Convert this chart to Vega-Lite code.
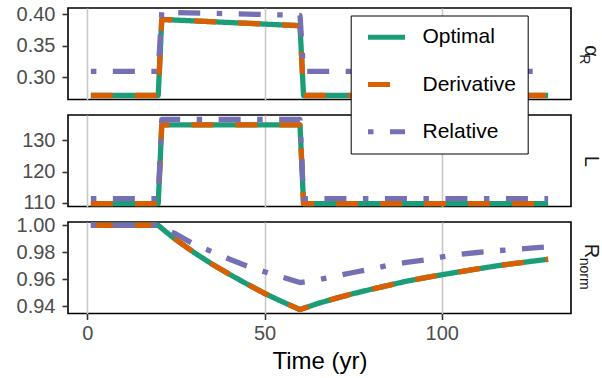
{
  "$schema": "https://vega.github.io/schema/vega-lite/v6.json",
  "padding": {"left": 15, "top": 3, "right": 2, "bottom": 5},
  "bounds": "flush",
  "spacing": 15,
  "config": {
    "font": "Liberation Sans",
    "view": {"stroke": "#000000", "strokeWidth": 1.6},
    "axis": {
      "labelFont": "Liberation Sans", "labelFontSize": 20, "labelColor": "#4D4D4D",
      "tickColor": "#333333", "tickWidth": 1.6, "tickSize": 6, "labelPadding": 7,
      "gridColor": "#C8C8C8", "gridWidth": 1.6, "domain": false,
      "titleFont": "Liberation Sans", "titleFontSize": 24, "titleColor": "#000000", "titleFontWeight": "normal"
    }
  },
  "datasets": {
    "alpha": [
      {"t": 1, "method": "Optimal", "value": 0.271},
      {"t": 20, "method": "Optimal", "value": 0.271},
      {"t": 21, "method": "Optimal", "value": 0.392},
      {"t": 60, "method": "Optimal", "value": 0.382},
      {"t": 61, "method": "Optimal", "value": 0.271},
      {"t": 130, "method": "Optimal", "value": 0.271},
      {"t": 1, "method": "Derivative", "value": 0.271},
      {"t": 20, "method": "Derivative", "value": 0.271},
      {"t": 21, "method": "Derivative", "value": 0.392},
      {"t": 60, "method": "Derivative", "value": 0.382},
      {"t": 61, "method": "Derivative", "value": 0.271},
      {"t": 130, "method": "Derivative", "value": 0.271},
      {"t": 1, "method": "Relative", "value": 0.3095},
      {"t": 20, "method": "Relative", "value": 0.3095},
      {"t": 21, "method": "Relative", "value": 0.4035},
      {"t": 60, "method": "Relative", "value": 0.3985},
      {"t": 61, "method": "Relative", "value": 0.3095},
      {"t": 130, "method": "Relative", "value": 0.3095}
    ],
    "L": [
      {"t": 1, "method": "Optimal", "value": 109.7},
      {"t": 20, "method": "Optimal", "value": 109.7},
      {"t": 21, "method": "Optimal", "value": 135},
      {"t": 60, "method": "Optimal", "value": 135},
      {"t": 61, "method": "Optimal", "value": 109.7},
      {"t": 130, "method": "Optimal", "value": 109.7},
      {"t": 1, "method": "Derivative", "value": 109.7},
      {"t": 20, "method": "Derivative", "value": 109.7},
      {"t": 21, "method": "Derivative", "value": 135},
      {"t": 60, "method": "Derivative", "value": 135},
      {"t": 61, "method": "Derivative", "value": 109.7},
      {"t": 130, "method": "Derivative", "value": 109.7},
      {"t": 1, "method": "Relative", "value": 111.3},
      {"t": 20, "method": "Relative", "value": 111.3},
      {"t": 21, "method": "Relative", "value": 136.7},
      {"t": 60, "method": "Relative", "value": 136.7},
      {"t": 61, "method": "Relative", "value": 111.3},
      {"t": 130, "method": "Relative", "value": 111.3}
    ],
    "R": [
      {"t": 1, "method": "Optimal", "value": 1.0},
      {"t": 20, "method": "Optimal", "value": 1.0},
      {"t": 22, "method": "Optimal", "value": 0.9955},
      {"t": 25, "method": "Optimal", "value": 0.9893},
      {"t": 30, "method": "Optimal", "value": 0.98},
      {"t": 35, "method": "Optimal", "value": 0.9715},
      {"t": 40, "method": "Optimal", "value": 0.9638},
      {"t": 45, "method": "Optimal", "value": 0.9565},
      {"t": 50, "method": "Optimal", "value": 0.9495},
      {"t": 55, "method": "Optimal", "value": 0.9433},
      {"t": 60, "method": "Optimal", "value": 0.9375},
      {"t": 65, "method": "Optimal", "value": 0.942},
      {"t": 70, "method": "Optimal", "value": 0.9458},
      {"t": 75, "method": "Optimal", "value": 0.9493},
      {"t": 80, "method": "Optimal", "value": 0.9525},
      {"t": 85, "method": "Optimal", "value": 0.9555},
      {"t": 90, "method": "Optimal", "value": 0.9585},
      {"t": 95, "method": "Optimal", "value": 0.961},
      {"t": 100, "method": "Optimal", "value": 0.9633},
      {"t": 105, "method": "Optimal", "value": 0.9655},
      {"t": 110, "method": "Optimal", "value": 0.9676},
      {"t": 115, "method": "Optimal", "value": 0.9697},
      {"t": 120, "method": "Optimal", "value": 0.9715},
      {"t": 125, "method": "Optimal", "value": 0.9732},
      {"t": 130, "method": "Optimal", "value": 0.9748},
      {"t": 1, "method": "Derivative", "value": 1.0},
      {"t": 20, "method": "Derivative", "value": 1.0},
      {"t": 22, "method": "Derivative", "value": 0.9955},
      {"t": 25, "method": "Derivative", "value": 0.9893},
      {"t": 30, "method": "Derivative", "value": 0.98},
      {"t": 35, "method": "Derivative", "value": 0.9715},
      {"t": 40, "method": "Derivative", "value": 0.9638},
      {"t": 45, "method": "Derivative", "value": 0.9565},
      {"t": 50, "method": "Derivative", "value": 0.9495},
      {"t": 55, "method": "Derivative", "value": 0.9433},
      {"t": 60, "method": "Derivative", "value": 0.9375},
      {"t": 65, "method": "Derivative", "value": 0.942},
      {"t": 70, "method": "Derivative", "value": 0.9458},
      {"t": 75, "method": "Derivative", "value": 0.9493},
      {"t": 80, "method": "Derivative", "value": 0.9525},
      {"t": 85, "method": "Derivative", "value": 0.9555},
      {"t": 90, "method": "Derivative", "value": 0.9585},
      {"t": 95, "method": "Derivative", "value": 0.961},
      {"t": 100, "method": "Derivative", "value": 0.9633},
      {"t": 105, "method": "Derivative", "value": 0.9655},
      {"t": 110, "method": "Derivative", "value": 0.9676},
      {"t": 115, "method": "Derivative", "value": 0.9697},
      {"t": 120, "method": "Derivative", "value": 0.9715},
      {"t": 125, "method": "Derivative", "value": 0.9732},
      {"t": 130, "method": "Derivative", "value": 0.9748},
      {"t": 1, "method": "Relative", "value": 1.0},
      {"t": 20, "method": "Relative", "value": 1.0},
      {"t": 22, "method": "Relative", "value": 0.9972},
      {"t": 25, "method": "Relative", "value": 0.9935},
      {"t": 30, "method": "Relative", "value": 0.986},
      {"t": 35, "method": "Relative", "value": 0.9806},
      {"t": 40, "method": "Relative", "value": 0.975},
      {"t": 45, "method": "Relative", "value": 0.9698},
      {"t": 50, "method": "Relative", "value": 0.9655},
      {"t": 55, "method": "Relative", "value": 0.9616},
      {"t": 60, "method": "Relative", "value": 0.9575},
      {"t": 65, "method": "Relative", "value": 0.9595},
      {"t": 70, "method": "Relative", "value": 0.9623},
      {"t": 75, "method": "Relative", "value": 0.965},
      {"t": 80, "method": "Relative", "value": 0.9675},
      {"t": 85, "method": "Relative", "value": 0.9703},
      {"t": 90, "method": "Relative", "value": 0.9725},
      {"t": 95, "method": "Relative", "value": 0.9742},
      {"t": 100, "method": "Relative", "value": 0.9765},
      {"t": 105, "method": "Relative", "value": 0.9784},
      {"t": 110, "method": "Relative", "value": 0.9798},
      {"t": 115, "method": "Relative", "value": 0.981},
      {"t": 120, "method": "Relative", "value": 0.982},
      {"t": 125, "method": "Relative", "value": 0.983},
      {"t": 130, "method": "Relative", "value": 0.9841}
    ]
  },
  "vconcat": [
    {
      "width": 503, "height": 91.5,
      "data": {"name": "alpha"},
      "encoding": {
        "x": {"field": "t", "type": "quantitative", "scale": {"domain": [-5.45, 136.45], "nice": false},
              "axis": {"values": [0, 50, 100], "grid": true, "labels": false, "ticks": false, "domain": false, "title": null}}
      },
      "layer": [
        {
          "mark": {"type": "line", "strokeWidth": 5.3, "strokeJoin": "round"},
          "encoding": {
            "y": {"field": "value", "type": "quantitative", "scale": {"domain": [0.2646, 0.4102], "nice": false, "zero": false},
                  "axis": {"orient": "left", "values": [0.30, 0.35, 0.40], "format": ".2f", "grid": false, "title": null}},
            "color": {"field": "method", "type": "nominal", "title": null,
              "scale": {"domain": ["Optimal", "Derivative", "Relative"], "range": ["#1B9E77", "#D95F02", "#7570B3"]},
              "legend": {"orient": "none", "legendX": 282.7, "legendY": 7.5, "title": null, "symbolType": "stroke", "symbolSize": 1369, "symbolStrokeWidth": 5, "labelFontSize": 21, "labelColor": "#000000", "labelFont": "Liberation Sans", "clipHeight": 21, "rowPadding": 25.2, "padding": 11.3, "symbolOffset": 3.5, "labelOffset": 15, "strokeColor": "#000000", "fillColor": "#FFFFFF", "cornerRadius": 0, "labelLimit": 300}},
            "strokeDash": {"field": "method", "type": "nominal", "title": null,
              "scale": {"domain": ["Optimal", "Derivative", "Relative"], "range": [[1, 0], [22, 22], [5.5, 16.5, 22, 16.5]]},
              "legend": {"orient": "none", "legendX": 282.7, "legendY": 7.5, "title": null, "symbolType": "stroke", "symbolSize": 1369, "symbolStrokeWidth": 5, "labelFontSize": 21, "labelColor": "#000000", "labelFont": "Liberation Sans", "clipHeight": 21, "rowPadding": 25.2, "padding": 11.3, "symbolOffset": 3.5, "labelOffset": 15, "strokeColor": "#000000", "fillColor": "#FFFFFF", "cornerRadius": 0, "labelLimit": 300}}
          }
        },
        {
          "mark": {"type": "line", "opacity": 0},
          "encoding": {
            "y": {"field": "value", "type": "quantitative", "scale": {"domain": [0.2646, 0.4102], "nice": false, "zero": false},
                  "axis": {"orient": "right", "domain": false, "ticks": false, "labels": false, "grid": false, "title": "α", "titleAngle": 90, "titleFontSize": 20, "titleColor": "#1A1A1A", "titleX": 13, "titleY": 36.7, "titleAlign": "left", "titleBaseline": "alphabetic"}}
          }
        },
        {
          "mark": {"type": "line", "opacity": 0},
          "encoding": {
            "y": {"field": "value", "type": "quantitative", "scale": {"domain": [0.2646, 0.4102], "nice": false, "zero": false},
                  "axis": {"orient": "right", "domain": false, "ticks": false, "labels": false, "grid": false, "title": "R", "titleAngle": 90, "titleFontSize": 14, "titleColor": "#1A1A1A", "titleX": 8, "titleY": 45.7, "titleAlign": "left", "titleBaseline": "alphabetic"}}
          }
        }
      ],
      "resolve": {"axis": {"y": "independent"}}
    },
    {
      "width": 503, "height": 91.5,
      "data": {"name": "L"},
      "encoding": {
        "x": {"field": "t", "type": "quantitative", "scale": {"domain": [-5.45, 136.45], "nice": false},
              "axis": {"values": [0, 50, 100], "grid": true, "labels": false, "ticks": false, "domain": false, "title": null}}
      },
      "layer": [
        {
          "mark": {"type": "line", "strokeWidth": 5.3, "strokeJoin": "round"},
          "encoding": {
            "y": {"field": "value", "type": "quantitative", "scale": {"domain": [108.8, 138.15], "nice": false, "zero": false},
                  "axis": {"orient": "left", "values": [110, 120, 130], "grid": false, "title": null}},
            "color": {"field": "method", "type": "nominal", "title": null,
              "scale": {"domain": ["Optimal", "Derivative", "Relative"], "range": ["#1B9E77", "#D95F02", "#7570B3"]},
              "legend": {"orient": "none", "legendX": 282.7, "legendY": 7.5, "title": null, "symbolType": "stroke", "symbolSize": 1369, "symbolStrokeWidth": 5, "labelFontSize": 21, "labelColor": "#000000", "labelFont": "Liberation Sans", "clipHeight": 21, "rowPadding": 25.2, "padding": 11.3, "symbolOffset": 3.5, "labelOffset": 15, "strokeColor": "#000000", "fillColor": "#FFFFFF", "cornerRadius": 0, "labelLimit": 300}},
            "strokeDash": {"field": "method", "type": "nominal", "title": null,
              "scale": {"domain": ["Optimal", "Derivative", "Relative"], "range": [[1, 0], [22, 22], [5.5, 16.5, 22, 16.5]]},
              "legend": {"orient": "none", "legendX": 282.7, "legendY": 7.5, "title": null, "symbolType": "stroke", "symbolSize": 1369, "symbolStrokeWidth": 5, "labelFontSize": 21, "labelColor": "#000000", "labelFont": "Liberation Sans", "clipHeight": 21, "rowPadding": 25.2, "padding": 11.3, "symbolOffset": 3.5, "labelOffset": 15, "strokeColor": "#000000", "fillColor": "#FFFFFF", "cornerRadius": 0, "labelLimit": 300}}
          }
        },
        {
          "mark": {"type": "line", "opacity": 0},
          "encoding": {
            "y": {"field": "value", "type": "quantitative", "scale": {"domain": [108.8, 138.15], "nice": false, "zero": false},
                  "axis": {"orient": "right", "domain": false, "ticks": false, "labels": false, "grid": false, "title": "L", "titleAngle": 90, "titleFontSize": 20, "titleColor": "#1A1A1A", "titleX": 13, "titleY": 45.75, "titleAlign": "center", "titleBaseline": "alphabetic"}}
          }
        }
      ],
      "resolve": {"axis": {"y": "independent"}}
    },
    {
      "width": 503, "height": 91.5,
      "data": {"name": "R"},
      "encoding": {
        "x": {"field": "t", "type": "quantitative", "scale": {"domain": [-5.45, 136.45], "nice": false},
              "axis": {"values": [0, 50, 100], "grid": true, "title": "Time (yr)", "labelPadding": 3.5, "titlePadding": 6, "domain": false}}
      },
      "layer": [
        {
          "mark": {"type": "line", "strokeWidth": 5.3, "strokeJoin": "round"},
          "encoding": {
            "y": {"field": "value", "type": "quantitative", "scale": {"domain": [0.9346, 1.0024], "nice": false, "zero": false},
                  "axis": {"orient": "left", "values": [0.94, 0.96, 0.98, 1.0], "format": ".2f", "grid": false, "title": null}},
            "color": {"field": "method", "type": "nominal", "title": null,
              "scale": {"domain": ["Optimal", "Derivative", "Relative"], "range": ["#1B9E77", "#D95F02", "#7570B3"]},
              "legend": {"orient": "none", "legendX": 282.7, "legendY": 7.5, "title": null, "symbolType": "stroke", "symbolSize": 1369, "symbolStrokeWidth": 5, "labelFontSize": 21, "labelColor": "#000000", "labelFont": "Liberation Sans", "clipHeight": 21, "rowPadding": 25.2, "padding": 11.3, "symbolOffset": 3.5, "labelOffset": 15, "strokeColor": "#000000", "fillColor": "#FFFFFF", "cornerRadius": 0, "labelLimit": 300}},
            "strokeDash": {"field": "method", "type": "nominal", "title": null,
              "scale": {"domain": ["Optimal", "Derivative", "Relative"], "range": [[1, 0], [22, 22], [5.5, 16.5, 22, 16.5]]},
              "legend": {"orient": "none", "legendX": 282.7, "legendY": 7.5, "title": null, "symbolType": "stroke", "symbolSize": 1369, "symbolStrokeWidth": 5, "labelFontSize": 21, "labelColor": "#000000", "labelFont": "Liberation Sans", "clipHeight": 21, "rowPadding": 25.2, "padding": 11.3, "symbolOffset": 3.5, "labelOffset": 15, "strokeColor": "#000000", "fillColor": "#FFFFFF", "cornerRadius": 0, "labelLimit": 300}}
          }
        },
        {
          "mark": {"type": "line", "opacity": 0},
          "encoding": {
            "y": {"field": "value", "type": "quantitative", "scale": {"domain": [0.9346, 1.0024], "nice": false, "zero": false},
                  "axis": {"orient": "right", "domain": false, "ticks": false, "labels": false, "grid": false, "title": "R", "titleAngle": 90, "titleFontSize": 20, "titleColor": "#1A1A1A", "titleX": 13, "titleY": 21.3, "titleAlign": "left", "titleBaseline": "alphabetic"}}
          }
        },
        {
          "mark": {"type": "line", "opacity": 0},
          "encoding": {
            "y": {"field": "value", "type": "quantitative", "scale": {"domain": [0.9346, 1.0024], "nice": false, "zero": false},
                  "axis": {"orient": "right", "domain": false, "ticks": false, "labels": false, "grid": false, "title": "norm", "titleAngle": 90, "titleFontSize": 14, "titleColor": "#1A1A1A", "titleX": 8, "titleY": 35.3, "titleAlign": "left", "titleBaseline": "alphabetic"}}
          }
        }
      ],
      "resolve": {"axis": {"y": "independent"}}
    }
  ]
}
